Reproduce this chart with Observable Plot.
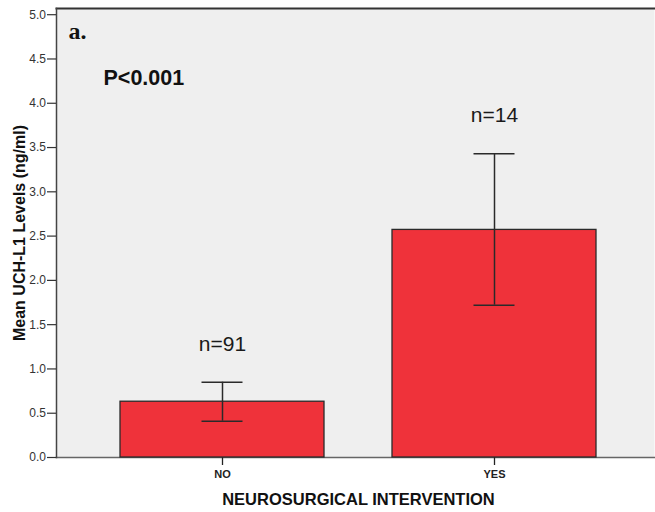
<!DOCTYPE html>
<html>
<head>
<meta charset="utf-8">
<script src="https://cdn.jsdelivr.net/npm/d3@7"></script>
<script src="https://cdn.jsdelivr.net/npm/@observablehq/plot@0.6"></script>
<style>
  html, body { margin: 0; padding: 0; background: #ffffff; }
  #chart svg { display: block; overflow: hidden; }
</style>
</head>
<body>
<div id="chart"></div>
<script>
const groups = ["NO", "YES"];
const means = [0.63, 2.57];
const lower = [0.41, 1.72];
const upper = [0.85, 3.43];
const counts = ["n=91", "n=14"];
const yTicks = [0, 0.5, 1.0, 1.5, 2.0, 2.5, 3.0, 3.5, 4.0, 4.5, 5.0];
const panelLabel = "a.";
const pLabel = "P<0.001";
const xTitle = "NEUROSURGICAL INTERVENTION";
const yTitle = "Mean UCH-L1 Levels (ng/ml)";

const data = groups.map((g, i) => ({group: g, mean: means[i], lo: lower[i], hi: upper[i], n: counts[i]}));

const chart = Plot.plot({
  width: 655,
  height: 512,
  marginLeft: 56,
  marginRight: 1,
  marginTop: 8,
  marginBottom: 55,
  style: {fontFamily: "'Liberation Sans', Arial, sans-serif", background: "#ffffff", overflow: "hidden"},
  x: {domain: groups, range: [56, 660], paddingInner: 0.25, paddingOuter: 0.235, axis: null},
  y: {domain: [0, 5.07], axis: null},
  marks: [
    Plot.frame({fill: "#efefef", stroke: null}),
    Plot.frame({anchor: "bottom", stroke: "#666", strokeWidth: 1.5}),
    Plot.frame({anchor: "top", stroke: "#333", strokeWidth: 2}),
    Plot.frame({anchor: "left", stroke: "#444", strokeWidth: 1.5}),
    Plot.axisY(yTicks, {tickSize: 9, tickPadding: 1.5, fontSize: 12, tickFormat: d3.format(".1f"), label: null, color: "#333", strokeWidth: 1.2}),
    Plot.axisX(groups, {tickSize: 8, tickPadding: 5, fontSize: 11, fontWeight: "bold", label: null, color: "#222", strokeWidth: 1.3}),
    Plot.barY(data, {x: "group", y: "mean", fill: "#ef323a", stroke: "#2a2a2a", strokeWidth: 1.3}),
    Plot.ruleX(data, {x: "group", y1: "lo", y2: "hi", stroke: "#2a2a2a", strokeWidth: 1.5}),
    Plot.tickY(data, {x: "group", y: "hi", stroke: "#2a2a2a", strokeWidth: 1.5, insetLeft: 81.5, insetRight: 81.5}),
    Plot.tickY(data, {x: "group", y: "lo", stroke: "#2a2a2a", strokeWidth: 1.5, insetLeft: 81.5, insetRight: 81.5}),
    Plot.text(data, {x: "group", y: "hi", text: "n", dy: -38, fontSize: 21, fill: "#1a1a1a", lineAnchor: "middle"}),
    Plot.text([panelLabel], {frameAnchor: "top-left", dx: 12, dy: 13, text: d => d, fontSize: 24, fontWeight: "bold", fontFamily: "'Liberation Serif', 'Times New Roman', serif", textAnchor: "start", lineAnchor: "top", fill: "#111"}),
    Plot.text([pLabel], {frameAnchor: "top-left", dx: 47, dy: 61, text: d => d, fontSize: 21.5, fontWeight: "bold", textAnchor: "start", lineAnchor: "top", fill: "#111"}),
    Plot.text([xTitle], {frameAnchor: "bottom", dx: 3, dy: 42, text: d => d, fontSize: 16.5, fontWeight: "bold", lineAnchor: "middle", fill: "#111"}),
    Plot.text([yTitle], {frameAnchor: "left", dx: -37, text: d => d, rotate: -90, fontSize: 16, fontWeight: "bold", textAnchor: "middle", lineAnchor: "middle", fill: "#111"})
  ]
});
document.getElementById("chart").append(chart);
</script>
</body>
</html>
